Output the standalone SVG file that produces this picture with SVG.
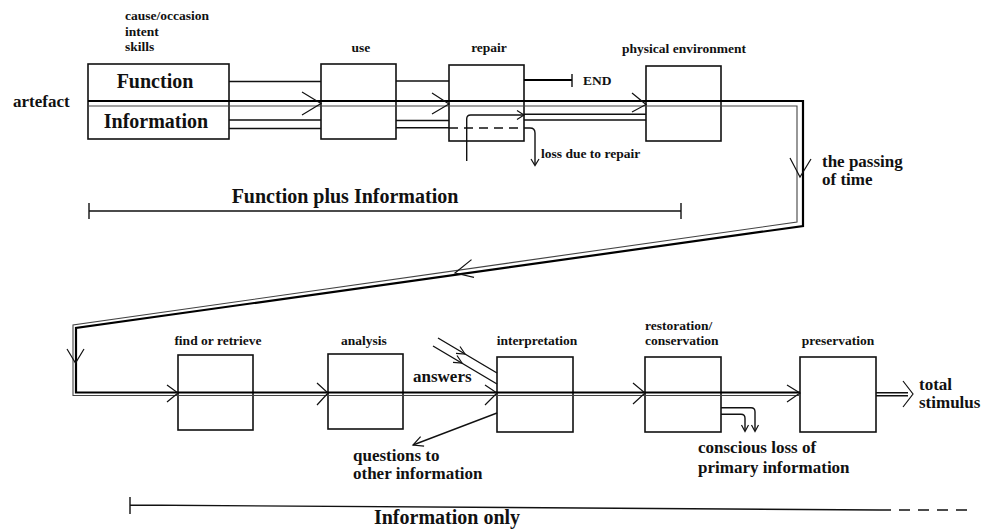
<svg xmlns="http://www.w3.org/2000/svg" width="981" height="530" viewBox="0 0 981 530">
<style>
text{font-family:"Liberation Serif","Times New Roman",serif;font-weight:bold;fill:#111}
.s{font-size:13.5px}
.m{font-size:17px}
.l{font-size:20px}
.box{fill:none;stroke:#111;stroke-width:1.6}
.ln{fill:none;stroke:#111;stroke-width:1.4}
.thick{fill:none;stroke:#000;stroke-width:2.2}
.thin{fill:none;stroke:#444;stroke-width:1.1}
.chev{fill:none;stroke:#111;stroke-width:1.2}
.dash{stroke-dasharray:9 6}
</style>
<rect width="981" height="530" fill="#fff"/>

<g id="labels-top">
<text class="s" x="125" y="20">cause/occasion</text>
<text class="s" x="125" y="36">intent</text>
<text class="s" x="125" y="51">skills</text>
<text class="m" x="13" y="107">artefact</text>
</g>

<g id="node-artefact">
<rect class="box" x="88" y="64" width="141" height="75"/>
<text class="l" x="155" y="88" text-anchor="middle">Function</text>
<text class="l" x="156" y="128" text-anchor="middle">Information</text>
</g>

<g id="node-use">
<rect class="box" x="321" y="64" width="75" height="75"/>
<text class="s" x="361" y="52" text-anchor="middle">use</text>
</g>

<g id="node-repair">
<rect class="box" x="449" y="65" width="75" height="76"/>
<text class="s" x="489" y="52" text-anchor="middle">repair</text>
</g>

<g id="node-physical">
<rect class="box" x="646" y="66" width="75" height="75"/>
<text class="s" x="684" y="53" text-anchor="middle">physical environment</text>
</g>

<g id="node-find">
<rect class="box" x="178" y="355" width="75" height="75"/>
<text class="s" x="218" y="345" text-anchor="middle">find or retrieve</text>
</g>

<g id="node-analysis">
<rect class="box" x="328" y="354" width="75" height="75"/>
<text class="s" x="364" y="345" text-anchor="middle">analysis</text>
</g>

<g id="node-interpretation">
<rect class="box" x="497" y="357" width="76" height="75"/>
<text class="s" x="537" y="345" text-anchor="middle">interpretation</text>
</g>

<g id="node-restoration">
<rect class="box" x="645" y="357" width="76" height="75"/>
<text class="s" x="645" y="330">restoration/</text>
<text class="s" x="645" y="345">conservation</text>
</g>

<g id="node-preservation">
<rect class="box" x="800" y="357" width="76" height="75"/>
<text class="s" x="838" y="345" text-anchor="middle">preservation</text>
</g>

<g id="connectors">
<!-- main ribbon -->
<path class="thick" d="M88,101 H803 V226 L76,328 V392.5 H800"/>
<path class="thin" d="M88,106 H797 V222 L73,325 V395.5 H800"/>
<!-- function line -->
<path class="ln" d="M229,81.5 H321 M396,81 H449"/>
<path class="thick" d="M524,80 H572"/>
<path class="ln" d="M572,74 V87"/>
<!-- information lines -->
<path class="ln" d="M229,120 H321 M229,128.5 H321 M396,120.5 H449 M396,127.7 H449 M524,114.3 H646 M524,120 H646"/>
<!-- repair internals -->
<path class="ln" d="M466.7,161 V119 Q466.7,115 470.7,115 H524"/>
<path class="chev" d="M517,110.5 L524,115 L517,119.5"/>
<path class="ln dash" d="M449,128 H530"/>
<path class="ln" d="M530,128 Q535,128 535,133 V165"/>
<path class="chev" d="M531,159 L535,165.5 L539,159"/>
<!-- top chevrons -->
<path class="chev" d="M302,92 L321,103.5 L302,115"/>
<path class="chev" d="M432,93 L449,104 L432,114"/>
<path class="chev" d="M632,93 L646,104.5 L632,112"/>
<!-- passing of time arrows -->
<path class="chev" d="M790,158 L800,177 L811,159"/>
<path class="chev" d="M471.5,259.6 L455,273 L474,277.4"/>
<path class="chev" d="M67,349 L75.5,363 L84,349"/>
<!-- bottom chevrons -->
<path class="chev" d="M167,385 L178,393 L167,402"/>
<path class="chev" d="M317,383 L328,393 L317,405"/>
<path class="chev" d="M485,385 L497,393 L485,405"/>
<path class="chev" d="M633,383 L645,393 L633,404"/>
<path class="chev" d="M787,385 L800,393 L787,402"/>
<!-- total stimulus -->
<path class="ln" d="M876,392.7 H908 M876,395.7 H908"/>
<path class="chev" d="M903,381 L913,394 L903,407"/>
<!-- answers inputs -->
<path class="ln" d="M438,338 L497,373 M433,346 L497,384"/>
<path class="chev" d="M460,346.5 L465,354 L456,353.3"/>
<path class="chev" d="M457,355.5 L462,363 L453,362.3"/>
<!-- questions arrow -->
<path class="ln" d="M497,413 L413,445"/>
<path class="chev" d="M420.6,436.7 L413,445 L424.1,446.1"/>
<!-- conscious loss -->
<path class="ln" d="M721,407.7 H751 Q755,407.7 755,411.7 V431 M721,414.3 H741 Q745,414.3 745,418.3 V431"/>
<path class="chev" d="M751.5,425 L755,431.5 L758.5,425 M741.5,425 L745,431.5 L748.5,425"/>
<!-- spans -->
<path class="ln" d="M89,211 H681 M89,203 V219 M681,203 V219"/>
<path class="ln" d="M130,505 L880,510 M130,497 V514"/>
<path class="ln" d="M880,510 H968" stroke-dasharray="11 8"/>
</g>

<g id="labels">
<text class="s" x="583" y="85">END</text>
<text class="s" x="541" y="158">loss due to repair</text>
<text class="m" x="822" y="167">the passing</text>
<text class="m" x="822" y="185">of time</text>
<text class="l" x="345" y="203" text-anchor="middle">Function plus Information</text>
<text class="m" x="413" y="382">answers</text>
<text class="m" x="353" y="461">questions to</text>
<text class="m" x="353" y="479">other information</text>
<text class="m" x="698" y="453">conscious loss of</text>
<text class="m" x="698" y="473">primary information</text>
<text class="m" x="919" y="390">total</text>
<text class="m" x="919" y="408">stimulus</text>
<text class="l" x="447" y="524" text-anchor="middle">Information only</text>
</g>
</svg>
